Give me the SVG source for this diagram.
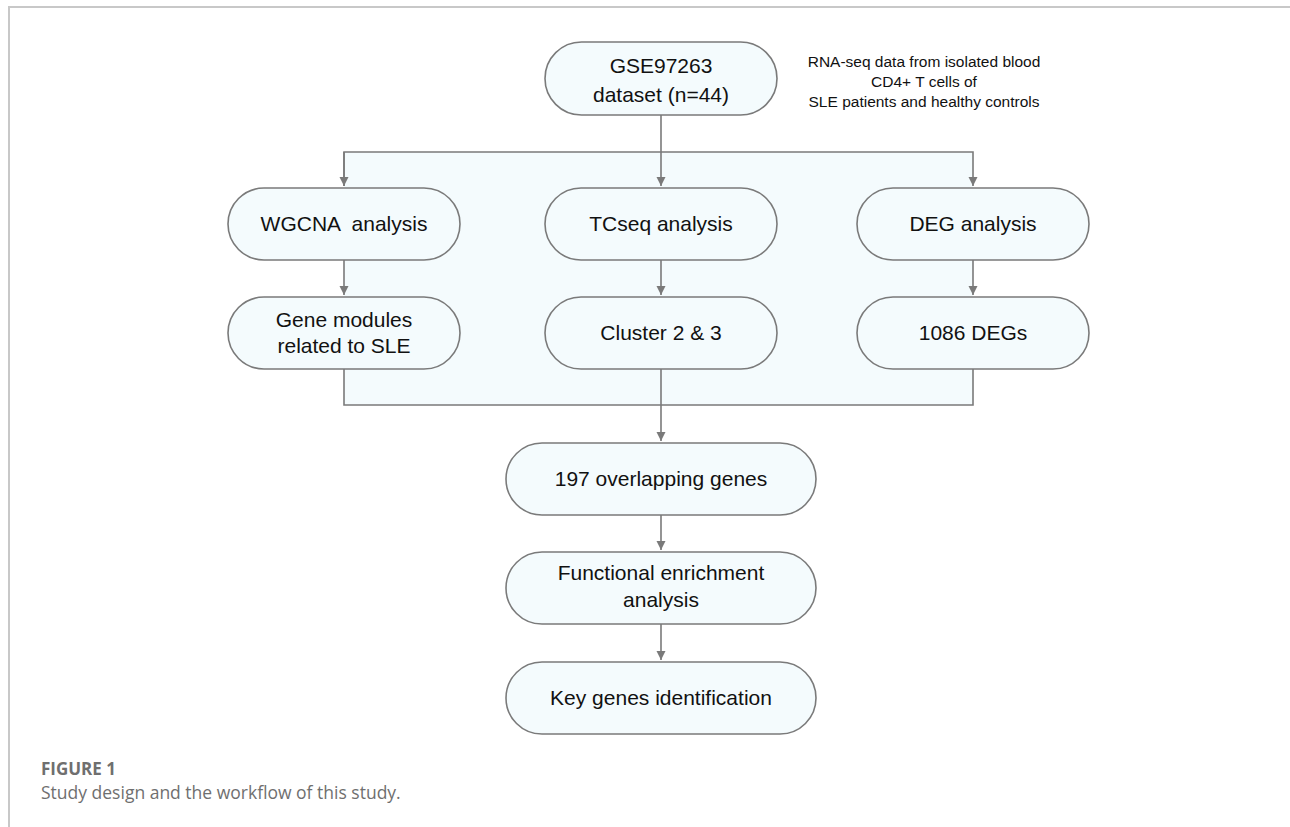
<svg xmlns="http://www.w3.org/2000/svg" width="1290" height="827" viewBox="0 0 1290 827">
<style>
.node{fill:#f4fbfd;stroke:#7a7a7a;stroke-width:1.6}
.t{font-family:"Liberation Sans",Arial,sans-serif;font-size:21px;fill:#111;text-anchor:middle}
.note{font-family:"Liberation Sans",Arial,sans-serif;font-size:15.5px;fill:#111;text-anchor:middle}
.c{stroke:#7a7a7a;stroke-width:1.6;fill:none}
.cap{font-family:"Open Sans",Lato,sans-serif;fill:#6f6f6f}
</style>
<defs>
<marker id="ah" markerUnits="userSpaceOnUse" markerWidth="10" markerHeight="10" refX="9" refY="4.5" orient="auto">
<path d="M0,0 L9,4.5 L0,9 z" fill="#7a7a7a"/>
</marker>
</defs>
<rect width="1290" height="827" fill="#fff"/>
<g id="frame" stroke="#c8c8c8" stroke-width="2" fill="none">
<path d="M9,827 L9,7 L1290,7"/>
</g>
<rect id="region" x="344" y="152" width="629" height="253" fill="#f4fbfd"/>
<g id="connectors">
<path class="c" d="M661,115 L661,186" marker-end="url(#ah)"/>
<path class="c" d="M344,186 L344,152 L973,152 L973,186" marker-end="url(#ah)"/>
<path class="c" d="M344,152 L344,186" marker-end="url(#ah)"/>
<path class="c" d="M344,260 L344,295" marker-end="url(#ah)"/>
<path class="c" d="M661,260 L661,295" marker-end="url(#ah)"/>
<path class="c" d="M973,260 L973,295" marker-end="url(#ah)"/>
<path class="c" d="M344,369 L344,405 L973,405 L973,369"/>
<path class="c" d="M661,369 L661,441" marker-end="url(#ah)"/>
<path class="c" d="M661,515 L661,550" marker-end="url(#ah)"/>
<path class="c" d="M661,624 L661,660" marker-end="url(#ah)"/>
</g>
<g id="n-gse">
<rect class="node" x="545" y="42" width="232" height="73" rx="36.5"/>
<text class="t" x="661" y="73">GSE97263</text>
<text class="t" x="661" y="102">dataset (n=44)</text>
</g>
<g id="n-note">
<text class="note" x="924" y="67">RNA-seq data from isolated blood</text>
<text class="note" x="924" y="87">CD4+ T cells of</text>
<text class="note" x="924" y="107">SLE patients and healthy controls</text>
</g>
<g id="n-wgcna">
<rect class="node" x="228" y="188" width="232" height="72" rx="36"/>
<text class="t" x="344" y="231" xml:space="preserve">WGCNA  analysis</text>
</g>
<g id="n-tcseq">
<rect class="node" x="545" y="188" width="232" height="72" rx="36"/>
<text class="t" x="661" y="231">TCseq analysis</text>
</g>
<g id="n-deg">
<rect class="node" x="857" y="188" width="232" height="72" rx="36"/>
<text class="t" x="973" y="231">DEG analysis</text>
</g>
<g id="n-modules">
<rect class="node" x="228" y="297" width="232" height="72" rx="36"/>
<text class="t" x="344" y="327">Gene modules</text>
<text class="t" x="344" y="353">related to SLE</text>
</g>
<g id="n-cluster">
<rect class="node" x="545" y="297" width="232" height="72" rx="36"/>
<text class="t" x="661" y="340">Cluster 2 &amp; 3</text>
</g>
<g id="n-degs">
<rect class="node" x="857" y="297" width="232" height="72" rx="36"/>
<text class="t" x="973" y="340">1086 DEGs</text>
</g>
<g id="n-overlap">
<rect class="node" x="506" y="443" width="310" height="72" rx="36"/>
<text class="t" x="661" y="486">197 overlapping genes</text>
</g>
<g id="n-func">
<rect class="node" x="506" y="552" width="310" height="72" rx="36"/>
<text class="t" x="661" y="580">Functional enrichment</text>
<text class="t" x="661" y="607">analysis</text>
</g>
<g id="n-key">
<rect class="node" x="506" y="662" width="310" height="72" rx="36"/>
<text class="t" x="661" y="705">Key genes identification</text>
</g>
<g id="caption">
<text class="cap" x="41" y="775" font-size="17" font-weight="bold">FIGURE 1</text>
<text class="cap" x="41" y="799" font-size="17.5">Study design and the workflow of this study.</text>
</g>
</svg>
